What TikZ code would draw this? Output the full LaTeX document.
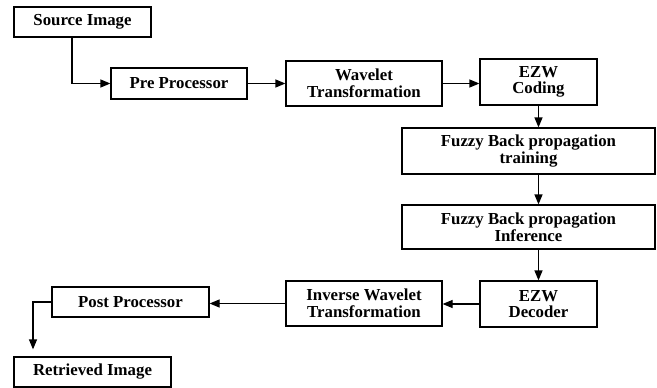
\documentclass[tikz,border=0pt]{standalone}
\usepackage{fontspec}
\setmainfont{Liberation Serif}
\usepackage{tikz}
\usetikzlibrary{arrows.meta}

\begin{document}
\begin{tikzpicture}[x=1pt,y=-1pt,
        line width=1.2pt,
        block/.style = {draw,
            rectangle,
            align=center,
            inner sep=0pt,
            font=\fontsize{16.8}{16.5}\selectfont\bfseries},
        flow/.style = {-{Triangle[length=10pt,width=8pt]}}]

        \useasboundingbox (0,0) rectangle (657,388);

        % Encoder side
        \node[block,minimum width=137,minimum height=30] (src) at (82.5,22) {Source Image};
        \node[block,minimum width=136,minimum height=31] (pre) at (179,83.5) {Pre Processor};
        \node[block,minimum width=156,minimum height=45] (wav) at (364,83.5) {Wavelet\\Transformation};
        \node[block,minimum width=117,minimum height=46] (ezwc) at (538.5,82) {EZW\\Coding};

        % Fuzzy network
        \node[block,minimum width=253,minimum height=46] (ftrain) at (528.5,151) {Fuzzy Back propagation\\training};
        \node[block,minimum width=253,minimum height=44] (finf) at (528.5,227) {Fuzzy Back propagation\\Inference};

        % Decoder side
        \node[block,minimum width=117,minimum height=46] (ezwd) at (538.5,304) {EZW\\Decoder};
        \node[block,minimum width=156,minimum height=45] (inv) at (364,303.5) {Inverse Wavelet\\Transformation};
        \node[block,minimum width=157,minimum height=30] (post) at (130.5,302) {Post Processor};
        \node[block,minimum width=157,minimum height=30] (ret) at (92.5,372) {Retrieved Image};

        % Arrows
        \draw[flow] ([xshift=-10.5]src.south) |- (pre.west);
        \draw[flow] (pre.east) -- (wav.west);
        \draw[flow] (wav.east) -- (wav.east -| ezwc.west);
        \draw[flow] (ezwc.south) -- (ezwc.south |- ftrain.north);
        \draw[flow] (ezwc.south |- ftrain.south) -- (ezwc.south |- finf.north);
        \draw[flow] (ezwc.south |- finf.south) -- (ezwd.north);
        \draw[flow] (ezwd.west) -- (ezwd.west -| inv.east);
        \draw[flow] (inv.west) -- (inv.west -| post.east);
        \draw[flow,shorten >=7pt] (post.west) -| ([xshift=-59.5]ret.north);
    \end{tikzpicture}
\end{document}
